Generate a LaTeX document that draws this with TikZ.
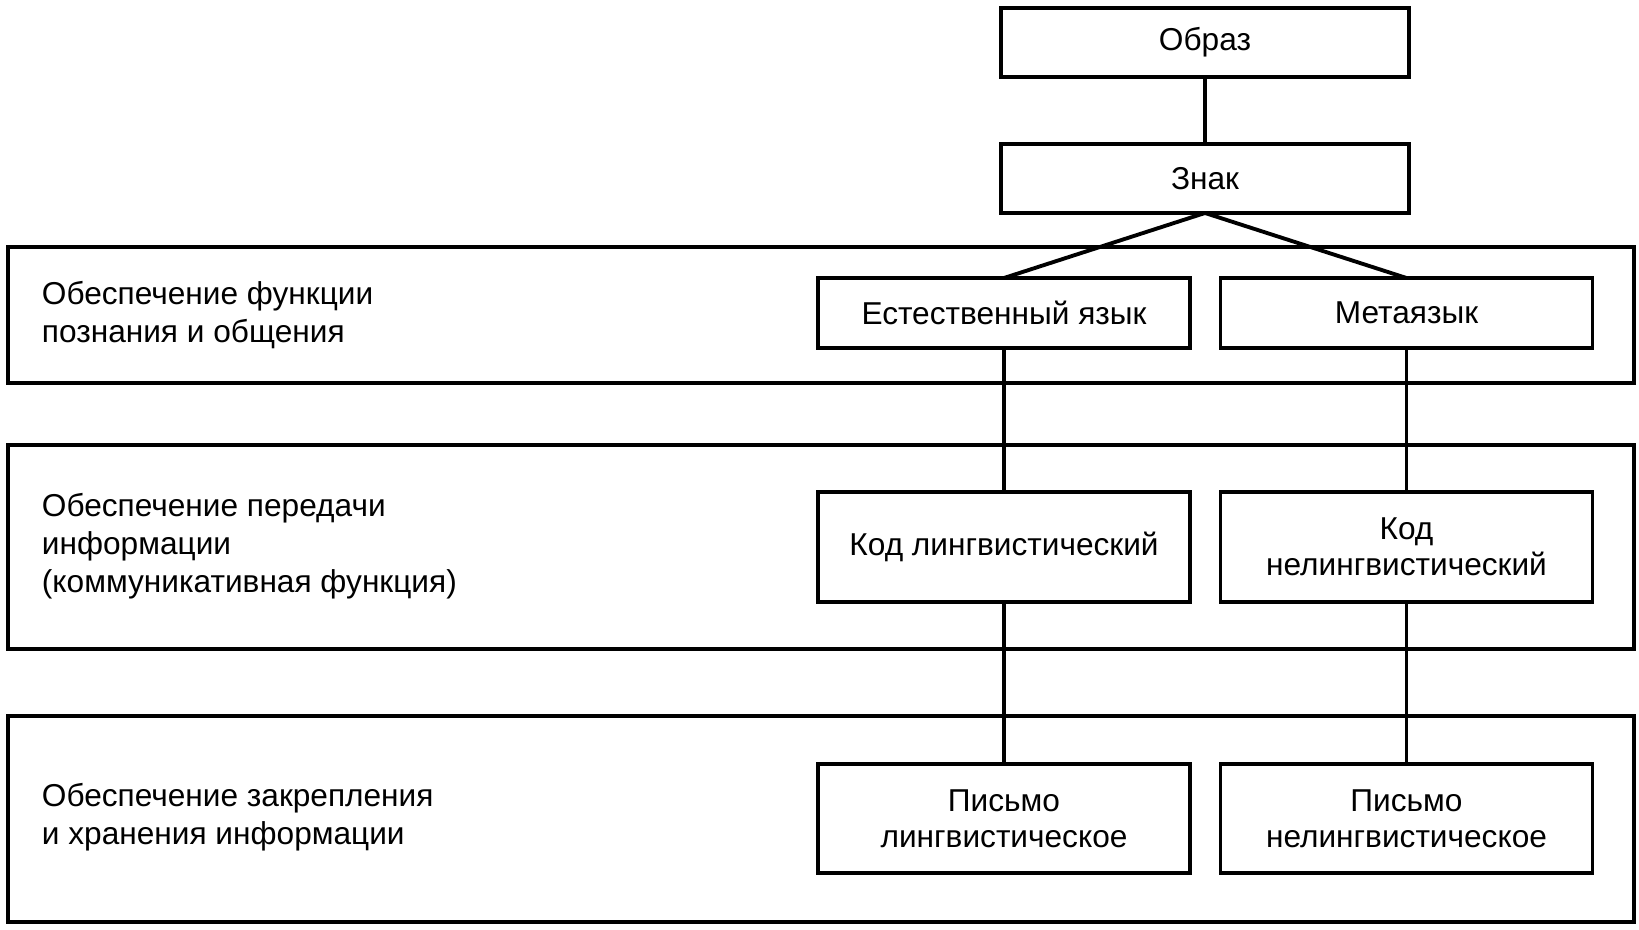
\documentclass[tikz,border=0pt]{standalone}
\usepackage{fontspec}
\setmainfont{Liberation Sans}
\begin{document}
\begin{tikzpicture}[font=\fontsize{18}{21.5}\selectfont, line width=2.2pt, line join=miter,
    box/.style={draw, fill=white, minimum width=7.44cm, minimum height=1.4cm, align=center, inner sep=0pt, outer sep=0pt, font=\fontsize{18}{20.5}\selectfont},
    topbox/.style={box, minimum width=8.16cm, minimum height=1.38cm},
    band/.style={draw, minimum width=32.52cm, inner sep=0pt, outer sep=0pt},
    lbl/.style={anchor=west, align=left, inner sep=0pt}]
    \useasboundingbox (0,0) rectangle (32.78,-18.6);
    % bands
    \node[band, minimum height=2.72cm] (band1) at (16.42, -6.3) {};
    \node[band, minimum height=4.08cm] (band2) at (16.42, -10.94) {};
    \node[band, minimum height=4.12cm] (band3) at (16.42, -16.38) {};
    \node[lbl] (fun1) at (0.8, -6.3) {Обеспечение функции\\познания и общения};
    \node[lbl] (fun2) at (0.8, -10.92) {Обеспечение передачи\\информации\\(коммуникативная функция)};
    \node[lbl] (fun3) at (0.8, -16.34) {Обеспечение закрепления\\и хранения информации};
    % boxes
    \node[topbox] (obraz) at (24.1, -0.85) {Образ};
    \node[topbox] (znak) at (24.1, -3.57) {Знак};
    \node[box] (natlang) at (20.08, -6.26) {Естественный язык};
    \node[box] (metalang) at (28.13, -6.26) {Метаязык};
    \node[box, minimum height=2.2cm] (lingcode) at (20.08, -10.94) {Код лингвистический};
    \node[box, minimum height=2.2cm] (nonlingcode) at (28.13, -10.94) {Код\\нелингвистический};
    \node[box, minimum height=2.18cm] (lingwrite) at (20.08, -16.37) {Письмо\\лингвистическое};
    \node[box, minimum height=2.18cm] (nonlingwrite) at (28.13, -16.37) {Письмо\\нелингвистическое};
    % links
    \draw (obraz) -- (znak);
    \draw (znak.south) -- (natlang.north);
    \draw (znak.south) -- (metalang.north);
    \draw (natlang) -- (lingcode);
    \draw (metalang) -- (nonlingcode);
    \draw (lingcode) -- (lingwrite);
    \draw (nonlingcode) -- (nonlingwrite);
\end{tikzpicture}
\end{document}
